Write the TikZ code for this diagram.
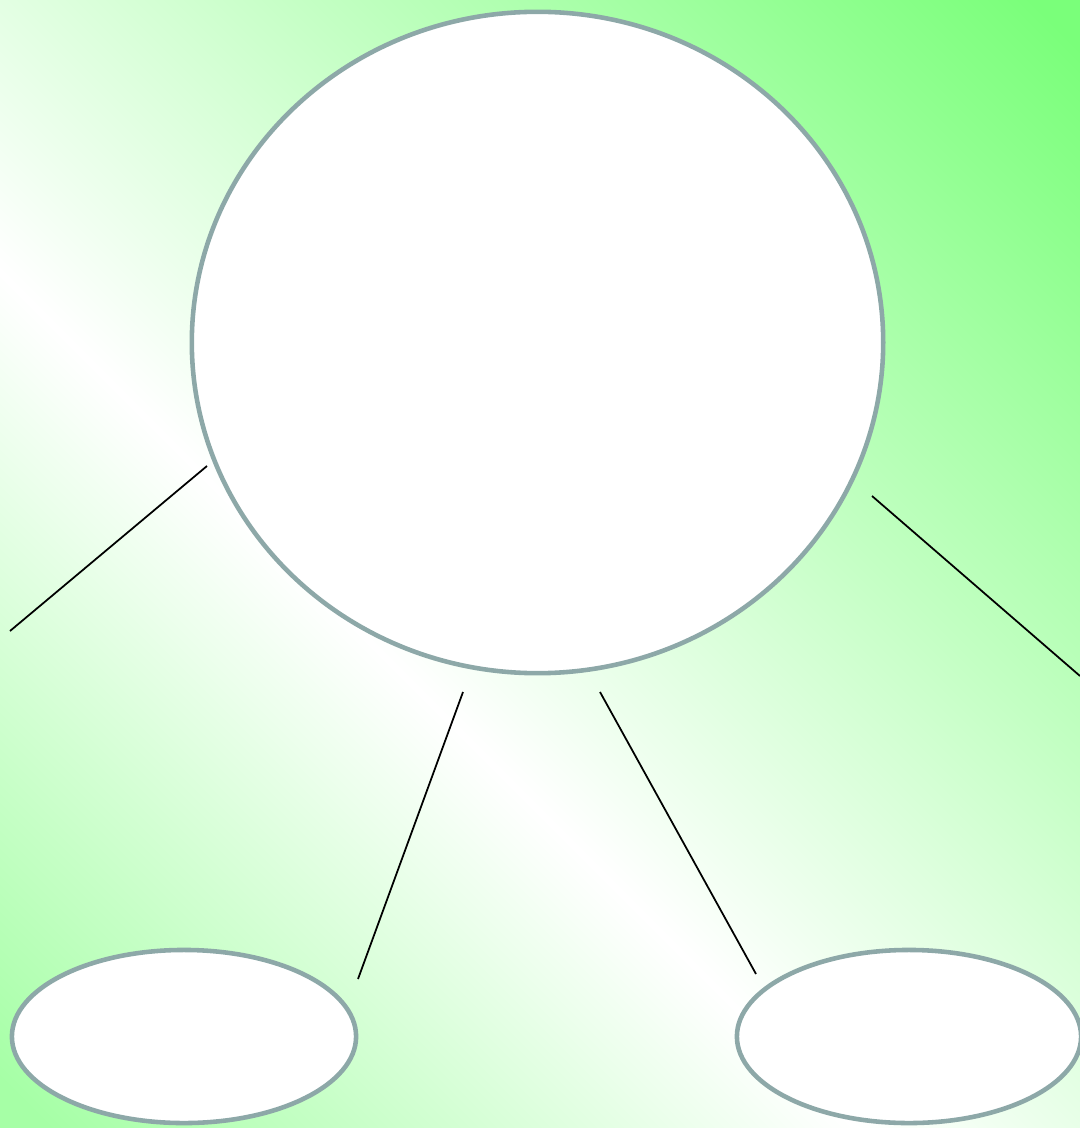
\documentclass[tikz,border=0pt]{standalone}
\usetikzlibrary{shapes.geometric}
\definecolor{rim}{HTML}{8DA8A8}
\definecolor{brightgreen}{HTML}{7AFF7A}
\definecolor{palegreen}{HTML}{A6FFA6}
\pgfdeclarehorizontalshading{meadow}{100bp}{color(0bp)=(brightgreen); color(16bp)=(brightgreen); color(58bp)=(white); color(84bp)=(palegreen); color(100bp)=(palegreen)}

\begin{document}
\begin{tikzpicture}[
  x=0.01cm, y=-0.01cm,
  bubble/.style={ellipse, draw=rim, line width=1.3pt, fill=white, inner sep=0pt},
  root/.style={bubble, minimum width=6.91cm, minimum height=6.61cm},
  leaf/.style={bubble, minimum width=3.44cm, minimum height=1.73cm},
  link/.style={draw=black, line width=0.5pt},
]

  % Background
  \useasboundingbox (0,0) rectangle (1080,1128);
  \shade[shading=meadow, shading angle=225] (0,0) rectangle (1080,1128);

  % Root
  \node[root] (top) at (537.5, 342.5) {};

  % Leaves
  \node[leaf] (lleaf) at (184, 1036.5) {};
  \node[leaf] (rleaf) at (909, 1036.5) {};

  % Line ends
  \coordinate (w1) at (207, 466);
  \coordinate (w2) at (10, 631);
  \coordinate (s1) at (463, 692);
  \coordinate (s2) at (358, 979);
  \coordinate (s3) at (600, 692);
  \coordinate (s4) at (756, 974);
  \coordinate (e1) at (872, 496);
  \coordinate (e2) at (1080, 676);

  % Lines
  \draw[link] (w1) -- (w2);
  \draw[link] (s1) -- (s2);
  \draw[link] (s3) -- (s4);
  \draw[link] (e1) -- (e2);

\end{tikzpicture}
\end{document}
